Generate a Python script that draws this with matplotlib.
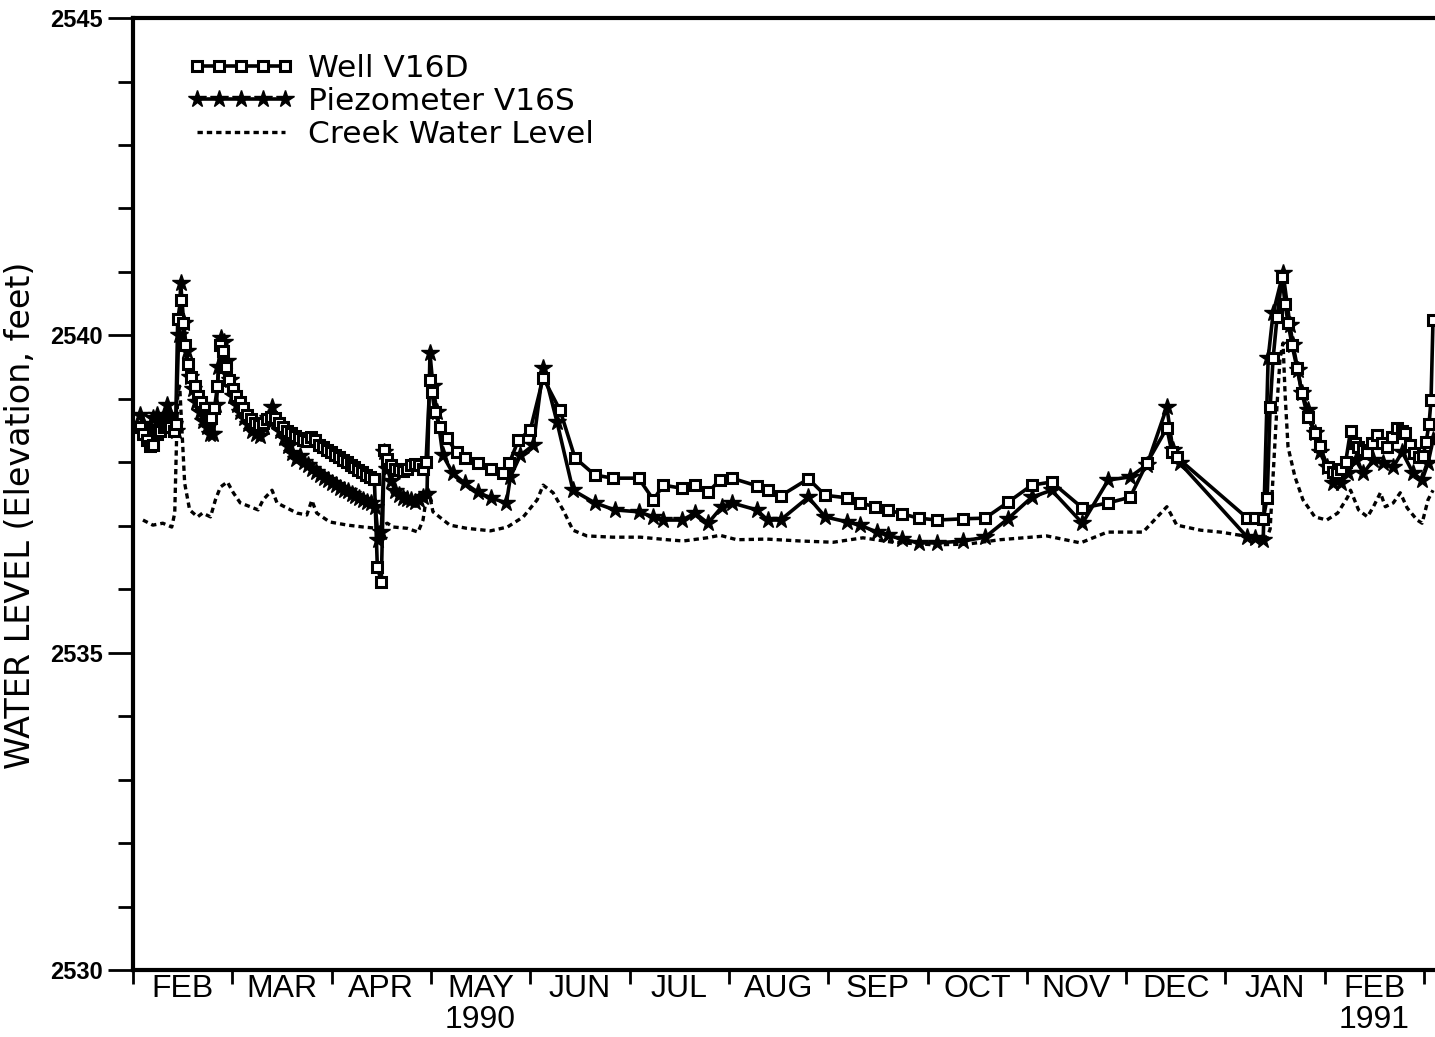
import matplotlib.pyplot as plt
from matplotlib.ticker import FixedLocator, MultipleLocator, NullFormatter

# Données : temps en mois depuis le 1er février 1990, niveaux en pieds
well_t = [0.07, 0.10, 0.14, 0.17, 0.20, 0.24, 0.27, 0.31, 0.34, 0.37, 0.41, 0.43,
          0.45, 0.48, 0.50, 0.52, 0.55, 0.58, 0.62, 0.65, 0.68, 0.72, 0.75, 0.79,
          0.82, 0.85, 0.88, 0.91, 0.94, 0.97, 1.01, 1.04, 1.08, 1.11, 1.15, 1.19,
          1.23, 1.27, 1.31, 1.35, 1.39, 1.43, 1.47, 1.51, 1.55, 1.59, 1.63, 1.67,
          1.71, 1.75, 1.79, 1.83, 1.87, 1.91, 1.95, 1.99, 2.03, 2.07, 2.11, 2.15,
          2.19, 2.23, 2.27, 2.31, 2.35, 2.39, 2.43, 2.46, 2.50, 2.53, 2.56, 2.60,
          2.64, 2.68, 2.72, 2.76, 2.80, 2.84, 2.88, 2.92, 2.95, 2.99, 3.01, 3.04,
          3.09, 3.16, 3.26, 3.34, 3.47, 3.60, 3.73, 3.79, 3.88, 4.00, 4.13, 4.30,
          4.45, 4.65, 4.83, 5.09, 5.24, 5.34, 5.53, 5.66, 5.79, 5.91, 6.03, 6.28,
          6.39, 6.52, 6.80, 6.97, 7.19, 7.32, 7.47, 7.60, 7.74, 7.91, 8.10, 8.36,
          8.58, 8.81, 9.05, 9.25, 9.56, 9.82, 10.04, 10.21, 10.41, 10.46, 10.51,
          11.22, 11.30, 11.38, 11.42, 11.45, 11.48, 11.52, 11.57, 11.60, 11.63, 11.67,
          11.72, 11.77, 11.83, 11.90, 11.95, 12.03, 12.08, 12.12, 12.16, 12.21, 12.26,
          12.30, 12.33, 12.38, 12.43, 12.48, 12.53, 12.58, 12.63, 12.68, 12.73, 12.78,
          12.81, 12.86, 12.90, 12.95, 12.99, 13.02, 13.05, 13.07, 13.09]
well_v = [2538.55, 2538.45, 2538.35, 2538.25, 2538.28, 2538.45, 2538.50, 2538.55, 2538.60, 2538.55, 2538.50, 2538.60,
          2540.25, 2540.55, 2540.20, 2539.85, 2539.55, 2539.35, 2539.20, 2539.05, 2538.95, 2538.85, 2538.75, 2538.70,
          2538.85, 2539.20, 2539.85, 2539.75, 2539.50, 2539.30, 2539.15, 2539.05, 2538.95, 2538.85, 2538.75, 2538.68,
          2538.62, 2538.58, 2538.62, 2538.68, 2538.72, 2538.70, 2538.62, 2538.55, 2538.50, 2538.46, 2538.42, 2538.38,
          2538.35, 2538.33, 2538.40, 2538.35, 2538.28, 2538.24, 2538.20, 2538.16, 2538.12, 2538.08, 2538.04, 2538.00,
          2537.96, 2537.92, 2537.88, 2537.84, 2537.80, 2537.77, 2537.74, 2536.35, 2536.12, 2538.20, 2538.05, 2537.95,
          2537.90, 2537.88, 2537.87, 2537.90, 2537.95, 2537.98, 2537.95, 2537.90, 2538.00, 2539.30, 2539.10, 2538.80,
          2538.55, 2538.38, 2538.16, 2538.07, 2537.99, 2537.89, 2537.83, 2537.99, 2538.35, 2538.51, 2539.33, 2538.82,
          2538.07, 2537.80, 2537.75, 2537.75, 2537.41, 2537.64, 2537.59, 2537.64, 2537.53, 2537.72, 2537.75, 2537.63,
          2537.56, 2537.47, 2537.74, 2537.48, 2537.44, 2537.36, 2537.30, 2537.25, 2537.19, 2537.12, 2537.09, 2537.11,
          2537.12, 2537.37, 2537.64, 2537.69, 2537.28, 2537.36, 2537.45, 2537.99, 2538.54, 2538.16, 2538.08,
          2537.12, 2537.12, 2537.10, 2537.44, 2538.87, 2539.64, 2540.29, 2540.92, 2540.50, 2540.20, 2539.85,
          2539.49, 2539.09, 2538.71, 2538.46, 2538.25, 2537.93, 2537.85, 2537.83, 2537.90, 2538.00, 2538.50,
          2538.30, 2538.24, 2538.20, 2538.15, 2538.30, 2538.43, 2538.30, 2538.24, 2538.40, 2538.54, 2538.50,
          2538.46, 2538.27, 2538.15, 2538.08, 2538.10, 2538.32, 2538.60, 2538.98, 2540.24]

piezo_t = [0.07, 0.10, 0.14, 0.17, 0.20, 0.24, 0.27, 0.31, 0.34, 0.37, 0.41, 0.43,
           0.46, 0.48, 0.51, 0.54, 0.57, 0.60, 0.63, 0.67, 0.70, 0.74, 0.78, 0.81,
           0.84, 0.86, 0.89, 0.92, 0.95, 0.98, 1.01, 1.05, 1.08, 1.12, 1.16, 1.20,
           1.24, 1.28, 1.32, 1.36, 1.40, 1.44, 1.48, 1.52, 1.56, 1.60, 1.64, 1.68,
           1.72, 1.76, 1.80, 1.84, 1.88, 1.92, 1.96, 2.00, 2.04, 2.08, 2.12, 2.16,
           2.20, 2.24, 2.28, 2.32, 2.36, 2.40, 2.44, 2.47, 2.50, 2.53, 2.56, 2.60,
           2.64, 2.68, 2.72, 2.76, 2.80, 2.84, 2.88, 2.92, 2.96, 2.99, 3.02, 3.06,
           3.12, 3.22, 3.34, 3.47, 3.60, 3.76, 3.80, 3.90, 4.03, 4.13, 4.27, 4.43,
           4.65, 4.85, 5.09, 5.24, 5.34, 5.53, 5.66, 5.79, 5.93, 6.03, 6.28, 6.39,
           6.52, 6.80, 6.97, 7.19, 7.32, 7.49, 7.60, 7.74, 7.91, 8.10, 8.36, 8.58,
           8.81, 9.05, 9.25, 9.56, 9.82, 10.04, 10.21, 10.41, 10.47, 10.54,
           11.22, 11.30, 11.38, 11.43, 11.48, 11.58, 11.65, 11.68, 11.73, 11.77, 11.83,
           11.90, 11.95, 12.02, 12.08, 12.16, 12.23, 12.31, 12.39, 12.49, 12.59, 12.69,
           12.78, 12.89, 12.98, 13.04, 13.09]
piezo_v = [2538.75, 2538.60, 2538.50, 2538.55, 2538.70, 2538.75, 2538.60, 2538.70, 2538.90, 2538.75, 2538.60, 2538.50,
           2540.00, 2540.82, 2540.20, 2539.75, 2539.35, 2539.15, 2538.95, 2538.80, 2538.65, 2538.55, 2538.45, 2538.45,
           2538.90, 2539.50, 2539.96, 2539.90, 2539.60, 2539.30, 2539.05, 2538.90, 2538.80, 2538.70, 2538.60, 2538.50,
           2538.45, 2538.42, 2538.55, 2538.70, 2538.87, 2538.65, 2538.50, 2538.38, 2538.25, 2538.15, 2538.05, 2538.10,
           2538.00, 2537.95, 2537.90, 2537.85, 2537.80, 2537.76, 2537.72, 2537.68, 2537.64, 2537.60, 2537.57, 2537.54,
           2537.50, 2537.47, 2537.44, 2537.41, 2537.38, 2537.36, 2537.30, 2536.78, 2536.90, 2538.16, 2537.90, 2537.70,
           2537.55, 2537.48, 2537.44, 2537.42, 2537.40, 2537.38, 2537.40, 2537.45, 2537.50, 2539.72, 2539.20, 2538.80,
           2538.11, 2537.83, 2537.67, 2537.53, 2537.44, 2537.36, 2537.77, 2538.11, 2538.27, 2539.49, 2538.63, 2537.56,
           2537.36, 2537.25, 2537.22, 2537.14, 2537.09, 2537.09, 2537.20, 2537.04, 2537.30, 2537.36, 2537.25, 2537.09,
           2537.09, 2537.45, 2537.14, 2537.06, 2537.01, 2536.90, 2536.85, 2536.79, 2536.73, 2536.73, 2536.76, 2536.82,
           2537.11, 2537.45, 2537.56, 2537.04, 2537.72, 2537.77, 2537.96, 2538.87, 2538.20, 2537.99,
           2536.82, 2536.80, 2536.78, 2539.64, 2540.35, 2540.98, 2540.16, 2539.85, 2539.45, 2539.09, 2538.82,
           2538.46, 2538.16, 2537.93, 2537.67, 2537.67, 2537.83, 2538.04, 2537.83, 2538.04, 2537.99, 2537.93,
           2538.16, 2537.83, 2537.72, 2537.99, 2538.35]

creek_t = [0.10, 0.20, 0.30, 0.39, 0.42, 0.45, 0.47, 0.52, 0.57, 0.65, 0.70, 0.78,
           0.83, 0.88, 0.95, 1.01, 1.08, 1.18, 1.26, 1.31, 1.40, 1.45, 1.55, 1.65,
           1.75, 1.80, 1.85, 1.98, 2.16, 2.32, 2.46, 2.56, 2.62, 2.76, 2.87, 2.92,
           2.97, 3.02, 3.19, 3.36, 3.60, 3.77, 3.93, 4.07, 4.13, 4.23, 4.33, 4.43,
           4.57, 4.83, 5.11, 5.38, 5.54, 5.78, 5.91, 6.08, 6.38, 6.72, 7.05, 7.35,
           7.65, 8.06, 8.40, 8.73, 9.20, 9.54, 9.81, 10.17, 10.41, 10.51, 10.75, 10.95,
           11.15, 11.42, 11.45, 11.52, 11.55, 11.58, 11.60, 11.63, 11.70, 11.78, 11.90,
           12.02, 12.13, 12.23, 12.26, 12.34, 12.43, 12.49, 12.56, 12.61, 12.69, 12.76,
           12.83, 12.93, 12.98, 13.04, 13.09]
creek_v = [2537.09, 2537.01, 2537.04, 2536.98, 2537.20, 2539.09, 2539.20, 2537.67, 2537.25, 2537.14, 2537.20, 2537.14,
           2537.41, 2537.61, 2537.69, 2537.52, 2537.36, 2537.30, 2537.25, 2537.41, 2537.56, 2537.36, 2537.28, 2537.20,
           2537.17, 2537.40, 2537.20, 2537.06, 2537.01, 2536.98, 2536.96, 2537.04, 2536.98, 2536.96, 2536.90, 2537.09,
           2537.61, 2537.22, 2537.01, 2536.96, 2536.92, 2536.98, 2537.14, 2537.41, 2537.64, 2537.52, 2537.25, 2536.93,
           2536.84, 2536.82, 2536.82, 2536.78, 2536.76, 2536.81, 2536.85, 2536.78, 2536.79, 2536.76, 2536.74, 2536.81,
           2536.74, 2536.70, 2536.71, 2536.78, 2536.84, 2536.73, 2536.90, 2536.90, 2537.30, 2537.01, 2536.93, 2536.90,
           2536.85, 2536.82, 2536.95, 2538.92, 2539.64, 2539.88, 2539.09, 2538.24, 2537.77, 2537.41, 2537.14,
           2537.09, 2537.20, 2537.45, 2537.56, 2537.25, 2537.14, 2537.30, 2537.52, 2537.30, 2537.36, 2537.52,
           2537.28, 2537.09, 2537.04, 2537.41, 2537.56]

mois = ['FEB', 'MAR', 'APR', 'MAY', 'JUN', 'JUL', 'AUG', 'SEP', 'OCT', 'NOV', 'DEC', 'JAN', 'FEB']
annees = [('1990', 3.5), ('1991', 12.5)]

fig = plt.figure(figsize=(14.35, 10.37), dpi=100)
ax = fig.add_axes([0.0927, 0.0646, 0.9073, 0.918])

# Séries
ax.plot(creek_t, creek_v, color='black', lw=2.4, linestyle=(0, (1.6, 1.2)),
        label='Creek Water Level', zorder=2)
ax.plot(piezo_t, piezo_v, color='black', lw=2.6, marker='*', markersize=13,
        label='Piezometer V16S', zorder=3)
ax.plot(well_t, well_v, color='black', lw=2.6, marker='s', markersize=7.5,
        mfc='white', mec='black', mew=2.2, label='Well V16D', zorder=4)

ax.set_xlim(0, 13.11)
ax.set_ylim(2530, 2545)

# Axes et graduations
for s in ['left', 'bottom', 'top']:
    ax.spines[s].set_linewidth(3)
ax.spines['right'].set_visible(False)

ax.yaxis.set_major_locator(FixedLocator([2530, 2535, 2540, 2545]))
ax.yaxis.set_minor_locator(MultipleLocator(1))
ax.tick_params(axis='y', which='major', direction='out', length=18, width=2, pad=4)
ax.tick_params(axis='y', which='minor', direction='out', length=11, width=2)
for lab in ax.get_yticklabels():
    lab.set_fontfamily(['Liberation Sans', 'DejaVu Sans'])
    lab.set_fontweight('bold')
    lab.set_fontsize(17)

ax.xaxis.set_major_locator(FixedLocator(list(range(0, 14))))
ax.xaxis.set_major_formatter(NullFormatter())
ax.xaxis.set_minor_locator(FixedLocator([i + 0.5 for i in range(13)]))
ax.xaxis.set_minor_formatter(plt.FixedFormatter(mois))
ax.tick_params(axis='x', which='major', direction='out', length=10, width=2)
ax.tick_params(axis='x', which='minor', length=0, pad=3)
for lab in ax.xaxis.get_minorticklabels():
    lab.set_fontfamily(['Liberation Sans', 'DejaVu Sans'])
    lab.set_fontsize(23)
    lab.set_fontweight('medium')

for an, pos in annees:
    ax.text(pos, -0.037, an, transform=ax.get_xaxis_transform(), ha='center', va='top',
            fontsize=23, family=['Liberation Sans', 'DejaVu Sans'])

ax.set_ylabel('WATER LEVEL (Elevation, feet)', fontsize=24)
ax.yaxis.set_label_coords(-0.074, 0.478)

# Légende
h, l = ax.get_legend_handles_labels()
ax.legend(h[::-1], l[::-1], loc='upper left', bbox_to_anchor=(0.042, 0.962),
          frameon=False, fontsize=22.5, numpoints=5, handlelength=3.4,
          handletextpad=0.45, labelspacing=0.12, borderpad=0, borderaxespad=0)

plt.savefig('out.png', dpi=100)
